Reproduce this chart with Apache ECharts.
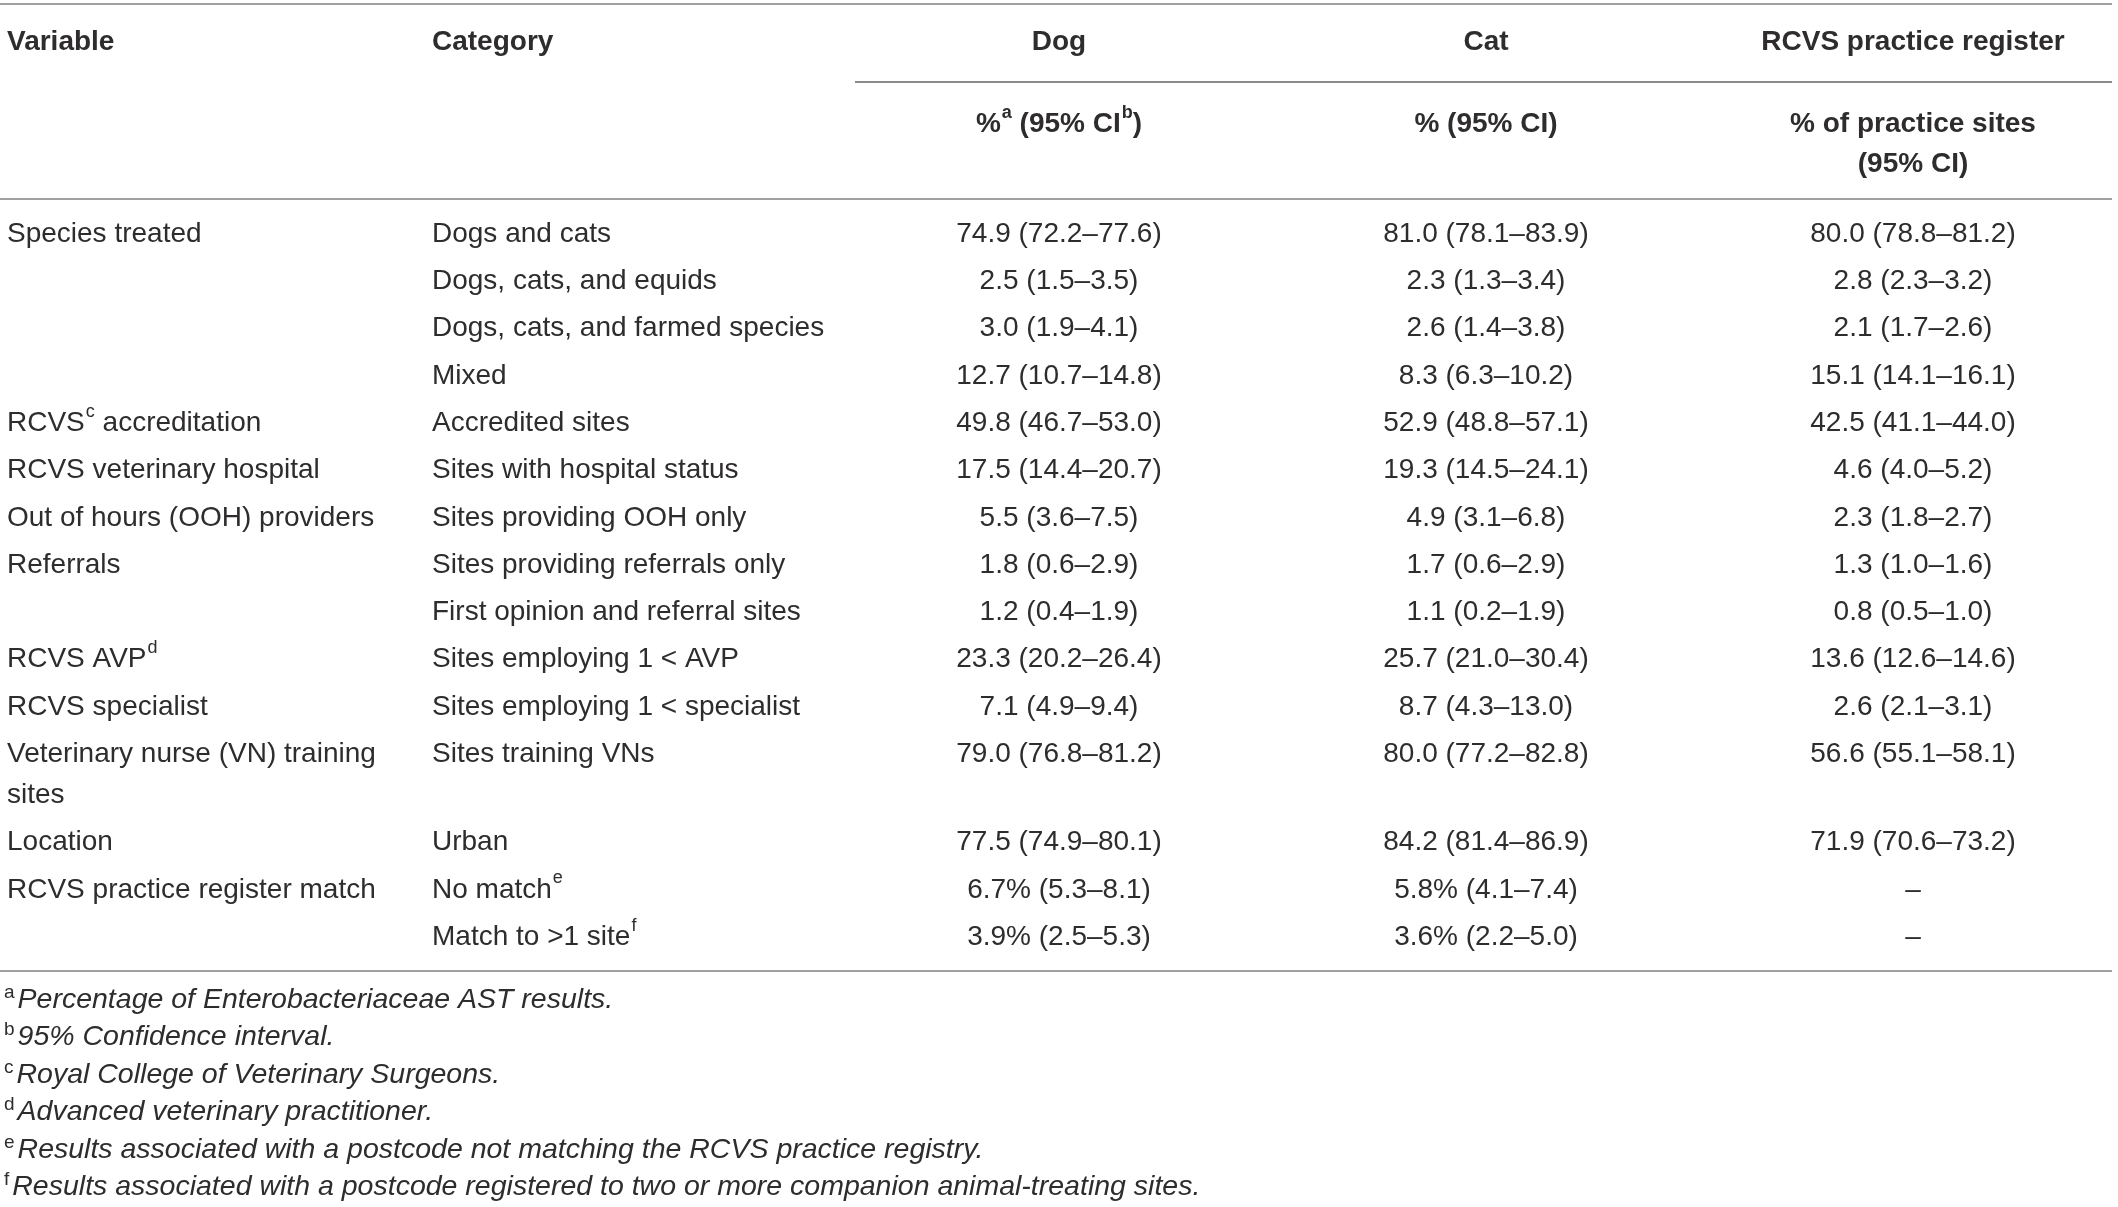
<!DOCTYPE html>
<html>
<head>
<meta charset="utf-8">
<script src="https://cdn.jsdelivr.net/npm/echarts@6/dist/echarts.min.js"></script>
<style>
  html, body { margin: 0; padding: 0; background: #fff; }
  #main { width: 2118px; height: 1207px; }
</style>
</head>
<body>
<div id="main"></div>
<script>
// column titles
var columnTitles = ['Variable', 'Category', 'Dog', 'Cat', 'RCVS practice register'];
var subTitles = ['%{bsup|a} (95% CI{bsup|b})', '% (95% CI)', '% of practice sites\n(95% CI)'];

// row labels
var variables = [
  'Species treated', '', '', '',
  'RCVS{sup|c} accreditation',
  'RCVS veterinary hospital',
  'Out of hours (OOH) providers',
  'Referrals', '',
  'RCVS AVP{sup|d}',
  'RCVS specialist',
  'Veterinary nurse (VN) training\nsites',
  'Location',
  'RCVS practice register match', ''
];
var categories = [
  'Dogs and cats', 'Dogs, cats, and equids', 'Dogs, cats, and farmed species', 'Mixed',
  'Accredited sites', 'Sites with hospital status', 'Sites providing OOH only',
  'Sites providing referrals only', 'First opinion and referral sites',
  'Sites employing 1 < AVP', 'Sites employing 1 < specialist', 'Sites training VNs',
  'Urban', 'No match{sup|e}', 'Match to >1 site{sup|f}'
];

// values: estimate, lower and upper 95% CI
var dogPct = [74.9, 2.5, 3.0, 12.7, 49.8, 17.5, 5.5, 1.8, 1.2, 23.3, 7.1, 79.0, 77.5, 6.7, 3.9];
var dogLow = [72.2, 1.5, 1.9, 10.7, 46.7, 14.4, 3.6, 0.6, 0.4, 20.2, 4.9, 76.8, 74.9, 5.3, 2.5];
var dogHigh = [77.6, 3.5, 4.1, 14.8, 53.0, 20.7, 7.5, 2.9, 1.9, 26.4, 9.4, 81.2, 80.1, 8.1, 5.3];

var catPct = [81.0, 2.3, 2.6, 8.3, 52.9, 19.3, 4.9, 1.7, 1.1, 25.7, 8.7, 80.0, 84.2, 5.8, 3.6];
var catLow = [78.1, 1.3, 1.4, 6.3, 48.8, 14.5, 3.1, 0.6, 0.2, 21.0, 4.3, 77.2, 81.4, 4.1, 2.2];
var catHigh = [83.9, 3.4, 3.8, 10.2, 57.1, 24.1, 6.8, 2.9, 1.9, 30.4, 13.0, 82.8, 86.9, 7.4, 5.0];

var regPct = [80.0, 2.8, 2.1, 15.1, 42.5, 4.6, 2.3, 1.3, 0.8, 13.6, 2.6, 56.6, 71.9, null, null];
var regLow = [78.8, 2.3, 1.7, 14.1, 41.1, 4.0, 1.8, 1.0, 0.5, 12.6, 2.1, 55.1, 70.6, null, null];
var regHigh = [81.2, 3.2, 2.6, 16.1, 44.0, 5.2, 2.7, 1.6, 1.0, 14.6, 3.1, 58.1, 73.2, null, null];

// rows where the estimate carries a % sign
var pctSign = [0, 0, 0, 0, 0, 0, 0, 0, 0, 0, 0, 0, 0, 1, 1];

var footnotes = [
  ['a', 'Percentage of Enterobacteriaceae AST results.'],
  ['b', '95% Confidence interval.'],
  ['c', 'Royal College of Veterinary Surgeons.'],
  ['d', 'Advanced veterinary practitioner.'],
  ['e', 'Results associated with a postcode not matching the RCVS practice registry.'],
  ['f', 'Results associated with a postcode registered to two or more companion animal-treating sites.']
];

function fmt(p, lo, hi, sign) {
  if (p == null) return '–';
  return p.toFixed(1) + (sign ? '%' : '') + ' (' + lo.toFixed(1) + '–' + hi.toFixed(1) + ')';
}

// layout
var W = 2118, H = 1207;
var FONT = '"Liberation Sans", Arial, Helvetica, sans-serif';
var INK = '#2e2c2d';
var RULE = '#a0a0a0';
var FS = 28;
var colX = [7, 432, 1059, 1486, 1913];
var colAlign = ['left', 'left', 'center', 'center', 'center'];
var firstRowY = 234, rowStep = 47.3, wrapStep = 41;

var rowY = [];
var y = firstRowY;
for (var i = 0; i < variables.length; i++) {
  rowY.push(y);
  var lines = variables[i].split('\n').length;
  y += rowStep + (lines - 1) * wrapStep;
}

var rich = {
  sup: { fontSize: 18, fontFamily: FONT, color: INK, verticalAlign: 'top', lineHeight: 34, padding: [0, 0, 0, 1] },
  bsup: { fontSize: 18, fontFamily: FONT, fontWeight: 'bold', color: INK, verticalAlign: 'top', lineHeight: 34, padding: [0, 0, 0, 1] }
};

function textEl(x, yy, str, align, opts) {
  opts = opts || {};
  return {
    type: 'text',
    x: x, y: yy,
    style: {
      text: str,
      align: align,
      verticalAlign: 'middle',
      fontFamily: FONT,
      fontSize: opts.fontSize || FS,
      fontWeight: opts.bold ? 'bold' : 'normal',
      fontStyle: opts.italic ? 'italic' : 'normal',
      lineHeight: opts.lineHeight || 40,
      fill: INK,
      rich: opts.rich || rich
    }
  };
}

function lineEl(x1, y1, x2, y2, color) {
  return {
    type: 'line',
    shape: { x1: x1, y1: y1, x2: x2, y2: y2 },
    style: { stroke: color || RULE, lineWidth: 2 }
  };
}

var bodyData = [];
for (var r = 0; r < variables.length; r++) bodyData.push([r]);

var chart = echarts.init(document.getElementById('main'));
chart.setOption({
  backgroundColor: '#fff',
  animation: false,
  grid: { left: 0, right: 0, top: 0, bottom: 0 },
  xAxis: { type: 'value', min: 0, max: W, show: false },
  yAxis: { type: 'value', min: 0, max: H, inverse: true, show: false },
  series: [
    {
      // header and rules
      type: 'custom',
      data: [[0]],
      renderItem: function (params, api) {
        var els = [];
        var p = function (x, yy) { return api.coord([x, yy]); };
        var a = p(0, 4), b = p(2112, 4);
        els.push(lineEl(a[0], a[1], b[0], b[1]));
        a = p(855, 82); b = p(2112, 82);
        els.push(lineEl(a[0], a[1], b[0], b[1], '#8a8a8a'));
        a = p(0, 199); b = p(2112, 199);
        els.push(lineEl(a[0], a[1], b[0], b[1]));
        a = p(0, 971); b = p(2112, 971);
        els.push(lineEl(a[0], a[1], b[0], b[1]));
        for (var c = 0; c < columnTitles.length; c++) {
          var t = p(colX[c], 42);
          els.push(textEl(t[0], t[1], columnTitles[c], colAlign[c], { bold: true }));
        }
        for (var s = 0; s < subTitles.length; s++) {
          var nl = subTitles[s].split('\n').length;
          var sp = p(colX[s + 2], 124 + (nl - 1) * 20);
          els.push(textEl(sp[0], sp[1], subTitles[s], 'center', { bold: true, lineHeight: 40 }));
        }
        return { type: 'group', children: els };
      }
    },
    {
      // body rows
      type: 'custom',
      data: bodyData,
      renderItem: function (params, api) {
        var r = api.value(0);
        var els = [];
        var cells = [
          variables[r], categories[r],
          fmt(dogPct[r], dogLow[r], dogHigh[r], pctSign[r]),
          fmt(catPct[r], catLow[r], catHigh[r], pctSign[r]),
          fmt(regPct[r], regLow[r], regHigh[r], 0)
        ];
        for (var c = 0; c < cells.length; c++) {
          if (!cells[c]) continue;
          var nl = cells[c].split('\n').length;
          var pt = api.coord([colX[c], rowY[r] + (nl - 1) * wrapStep / 2]);
          els.push(textEl(pt[0], pt[1], cells[c], colAlign[c], { lineHeight: wrapStep }));
        }
        return { type: 'group', children: els };
      }
    },
    {
      // footnotes
      type: 'custom',
      data: footnotes.map(function (f, i) { return [i]; }),
      renderItem: function (params, api) {
        var i = api.value(0);
        var pt = api.coord([4, 1000 + i * 37.5]);
        var str = '{fsup|' + footnotes[i][0] + '}' + footnotes[i][1];
        return textEl(pt[0], pt[1], str, 'left', {
          italic: true, fontSize: 28.5, lineHeight: 34,
          rich: { fsup: { fontSize: 19, fontFamily: FONT, fontStyle: 'normal', color: INK, verticalAlign: 'top', lineHeight: 34, padding: [0, 3, 0, 0] } }
        });
      }
    }
  ]
});
</script>
</body>
</html>
